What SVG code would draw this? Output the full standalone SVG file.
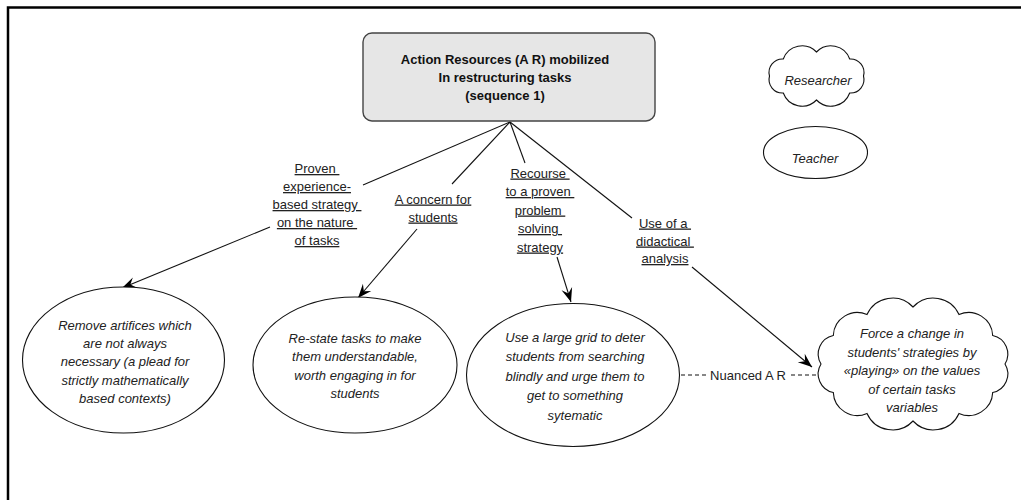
<svg xmlns="http://www.w3.org/2000/svg" width="1021" height="500" viewBox="0 0 1021 500">
<style>
.frame{fill:none;stroke:#000;stroke-width:2.5}
.shape{fill:#fff;stroke:#111;stroke-width:1.1}
.box{fill:#e6e6e6;stroke:#444;stroke-width:1.4}
.t{font-family:"Liberation Sans",Arial,sans-serif;font-size:13px;fill:#222;text-anchor:middle}
.it{font-style:italic}
.b{font-weight:bold;fill:#111}
.lbl{text-decoration:underline;white-space:pre}
.con{stroke:#111;stroke-width:1.1;fill:none}
.dash{stroke:#111;stroke-width:1.1;stroke-dasharray:4 3;fill:none}
</style>
<defs>
<marker id="arr" viewBox="-15 -7 16 14" refX="0" refY="0" markerWidth="16" markerHeight="14" markerUnits="userSpaceOnUse" orient="auto">
<path d="M0,0 L-14,-5.5 L-9,0 L-14,5.5 Z" fill="#000"/>
</marker>
</defs>
<rect width="1021" height="500" fill="#fff"/>
<path class="frame" d="M8,500 V7.5 H1021"/>

<g id="connectors">
<line class="con" x1="510" y1="122" x2="363" y2="185"/>
<line class="con" x1="270" y1="227" x2="122" y2="288" marker-end="url(#arr)"/>
<line class="con" x1="510" y1="122" x2="452" y2="184"/>
<line class="con" x1="417" y1="229" x2="358" y2="298" marker-end="url(#arr)"/>
<line class="con" x1="510" y1="122" x2="525" y2="163"/>
<line class="con" x1="557" y1="257" x2="571" y2="302" marker-end="url(#arr)"/>
<line class="con" x1="510" y1="122" x2="632" y2="218"/>
<line class="con" x1="692" y1="267" x2="812" y2="367" marker-end="url(#arr)"/>
<line class="dash" x1="681" y1="375" x2="706" y2="375"/>
<line class="dash" x1="791" y1="375" x2="816" y2="375"/>
<text class="t" x="748" y="379.5">Nuanced A R</text>
</g>

<g id="labels">
<text class="t lbl" x="317" y="173">Proven </text>
<text class="t lbl" x="317" y="191">experience-</text>
<text class="t lbl" x="317" y="209">based strategy </text>
<text class="t lbl" x="317" y="227">on the nature </text>
<text class="t lbl" x="317" y="245">of tasks</text>
<text class="t lbl" x="433" y="203.5">A concern for</text>
<text class="t lbl" x="433" y="221.5">students</text>
<text class="t lbl" x="540" y="177.5">Recourse </text>
<text class="t lbl" x="540" y="196">to a proven </text>
<text class="t lbl" x="540" y="214.5">problem </text>
<text class="t lbl" x="540" y="233">solving </text>
<text class="t lbl" x="540" y="251.5">strategy</text>
<text class="t lbl" x="665" y="227.5">Use of a </text>
<text class="t lbl" x="665" y="245.5">didactical </text>
<text class="t lbl" x="665" y="263">analysis</text>
</g>

<g id="main">
<rect class="box" x="363" y="33" width="292" height="88" rx="9" ry="9"/>
<text class="t b" x="505" y="64">Action Resources (A R) mobilized</text>
<text class="t b" x="505" y="82">In restructuring tasks</text>
<text class="t b" x="505" y="100">(sequence 1)</text>
</g>

<g id="researcher">
<path class="shape" d="M863.5,76 A13.5,13.5 0 0 1 849.7,93 A20,20 0 0 1 816.5,100 A20,20 0 0 1 783.3,93 A13.5,13.5 0 0 1 769.5,76 A13.5,13.5 0 0 1 783.3,59 A20,20 0 0 1 816.5,52 A20,20 0 0 1 849.7,59 A13.5,13.5 0 0 1 863.5,76 Z"/>
<text class="t it" x="818" y="84.5">Researcher</text>
</g>

<g id="teacher">
<ellipse class="shape" cx="815.5" cy="152.5" rx="52" ry="26"/>
<text class="t it" x="815" y="162.5">Teacher</text>
</g>

<g id="node-remove">
<ellipse class="shape" cx="123.5" cy="360" rx="101" ry="73"/>
<text class="t it" x="125" y="329.5">Remove artifices which</text>
<text class="t it" x="125" y="347.5">are not always</text>
<text class="t it" x="125" y="366">necessary (a plead for</text>
<text class="t it" x="125" y="384.5">strictly mathematically</text>
<text class="t it" x="125" y="402.5">based contexts)</text>
</g>

<g id="node-restate">
<ellipse class="shape" cx="355" cy="365" rx="102" ry="68"/>
<text class="t it" x="355" y="342.5">Re-state tasks to make</text>
<text class="t it" x="355" y="361">them understandable,</text>
<text class="t it" x="355" y="380">worth engaging in for</text>
<text class="t it" x="355" y="397.5">students</text>
</g>

<g id="node-grid">
<ellipse class="shape" cx="573" cy="375" rx="106.5" ry="71.5"/>
<text class="t it" x="575" y="341.5">Use a large grid to deter</text>
<text class="t it" x="575" y="360.5">students from searching</text>
<text class="t it" x="575" y="380.5">blindly and urge them to</text>
<text class="t it" x="575" y="399.5">get to something</text>
<text class="t it" x="575" y="420">sytematic</text>
</g>

<g id="node-force">
<path class="shape" d="M1005,364 A19,19 0 0 1 992.7,392.5 A24,24 0 0 1 959,413.4 A28,28 0 0 1 913,421 A28,28 0 0 1 867,413.4 A24,24 0 0 1 833.3,392.5 A19,19 0 0 1 821,364 A19,19 0 0 1 833.3,335.5 A24,24 0 0 1 867,314.6 A28,28 0 0 1 913,307 A28,28 0 0 1 959,314.6 A24,24 0 0 1 992.7,335.5 A19,19 0 0 1 1005,364 Z"/>
<text class="t it" x="912" y="337.5">Force a change in</text>
<text class="t it" x="912" y="356.5">students' strategies by</text>
<text class="t it" x="912" y="375">«playing» on the values</text>
<text class="t it" x="912" y="393.5">of certain tasks</text>
<text class="t it" x="912" y="412">variables</text>
</g>
</svg>
